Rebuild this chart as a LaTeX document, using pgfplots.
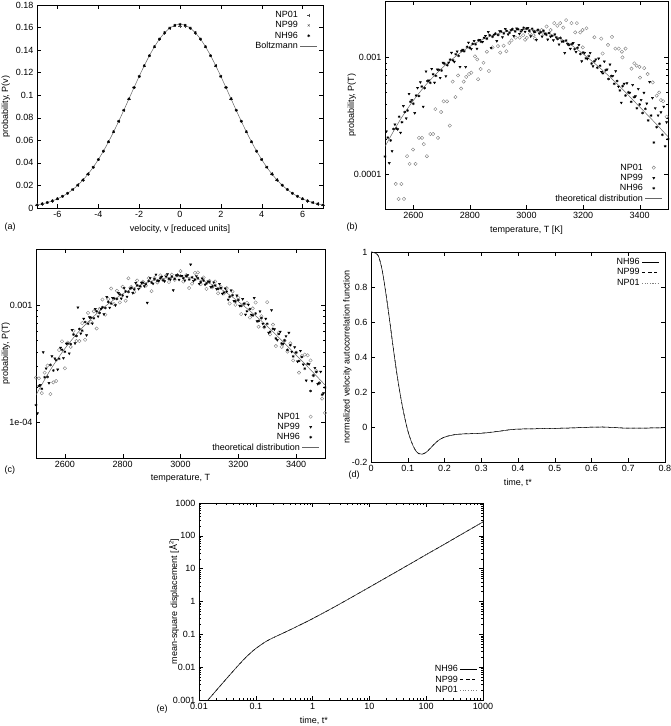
\documentclass[border=0pt]{standalone}
\usepackage{fontspec}
\setmainfont{Liberation Sans}
\usepackage{pgfplots}
\usepackage{pgfplotstable}
\pgfplotsset{compat=1.18}

\pgfplotsset{
 gp/.style={
  scale only axis,
  anchor=south west,
  axis line style={line width=0.5pt},
  tick style={black, line width=0.4pt},
  major tick length=4pt, minor tick length=2pt,
  tick align=inside,
  /pgf/number format/assume math mode=true,
  tick label style={font=\fontsize{9}{10}\selectfont},
  label style={font=\fontsize{9}{10}\selectfont},
  legend style={draw=none, fill=none, font=\fontsize{9}{10}\selectfont, row sep=-1.5pt, inner sep=1pt},
  legend cell align=right,
  legend plot pos=right,
 },
 ylab/.style={ylabel style={at={(axis description cs:#1,0.5)}, anchor=south}},
 mNP01/.style={only marks, mark=o, mark size=1.7pt, gray, mark options={line width=0.4pt}},
 mNP99/.style={only marks, mark=triangle*, mark size=1.25pt, black, mark options={rotate=180}},
 mNH96/.style={only marks, mark=asterisk, mark size=1.4pt, black, mark options={line width=0.5pt}},
 theo/.style={no markers, gray!80!black, line width=0.5pt, smooth},
}

% ---------------- panel (a) ----------------
\pgfplotstableread{
v     np01     np99     nh96     b
-7    0.00280  0.00272  0.00276  0.00274
-6.75 0.00362  0.00368  0.00366  0.00365
-6.5  0.00485  0.00480  0.00482  0.00482
-6.25 0.00625  0.00631  0.00628  0.00628
-6    0.00815  0.00808  0.00811  0.00811
-5.75 0.01032  0.01040  0.01036  0.01036
-5.5  0.01312  0.01306  0.01309  0.01309
-5.25 0.01635  0.01641  0.01638  0.01638
-5    0.02032  0.02025  0.02028  0.02028
-4.75 0.02480  0.02490  0.02485  0.02485
-4.5  0.03018  0.03010  0.03013  0.03013
-4.25 0.03610  0.03620  0.03615  0.03615
-4    0.04298  0.04288  0.04293  0.04293
-3.75 0.05040  0.05050  0.05045  0.05045
-3.5  0.05875  0.05862  0.05868  0.05868
-3.25 0.06748  0.06760  0.06754  0.06754
-3    0.07700  0.07688  0.07693  0.07693
-2.75 0.08665  0.08680  0.08673  0.08673
-2.5  0.09682  0.09668  0.09675  0.09675
-2.25 0.10672  0.10690  0.10681  0.10681
-2    0.11678  0.11662  0.11670  0.11670
-1.75 0.12610  0.12628  0.12619  0.12619
-1.5  0.13510  0.13495  0.13502  0.13502
-1.25 0.14290  0.14308  0.14299  0.14299
-1    0.14975  0.14995  0.14985  0.14985
-0.75 0.15520  0.15560  0.15541  0.15541
-0.5  0.15920  0.15970  0.15951  0.15951
-0.25 0.16150  0.16220  0.16202  0.16202
0     0.16120  0.16250  0.16290  0.16287
0.25  0.16140  0.16215  0.16205  0.16202
0.5   0.15915  0.15965  0.15950  0.15951
0.75  0.15520  0.15555  0.15545  0.15541
1     0.14970  0.14995  0.14988  0.14985
1.25  0.14290  0.14305  0.14300  0.14299
1.5   0.13508  0.13498  0.13502  0.13502
1.75  0.12612  0.12625  0.12619  0.12619
2     0.11675  0.11665  0.11670  0.11670
2.25  0.10676  0.10688  0.10681  0.10681
2.5   0.09680  0.09670  0.09675  0.09675
2.75  0.08668  0.08678  0.08673  0.08673
3     0.07698  0.07688  0.07693  0.07693
3.25  0.06750  0.06758  0.06754  0.06754
3.5   0.05872  0.05865  0.05868  0.05868
3.75  0.05042  0.05048  0.05045  0.05045
4     0.04296  0.04290  0.04293  0.04293
4.25  0.03612  0.03618  0.03615  0.03615
4.5   0.03016  0.03010  0.03013  0.03013
4.75  0.02482  0.02488  0.02485  0.02485
5     0.02030  0.02026  0.02028  0.02028
5.25  0.01636  0.01640  0.01638  0.01638
5.5   0.01311  0.01307  0.01309  0.01309
5.75  0.01034  0.01038  0.01036  0.01036
6     0.00813  0.00809  0.00811  0.00811
6.25  0.00626  0.00630  0.00628  0.00628
6.5   0.00484  0.00480  0.00482  0.00482
6.75  0.00363  0.00367  0.00365  0.00365
7     0.00276  0.00272  0.00274  0.00274
}\tabA

% theoretical temperature distribution (b),(c)
\pgfplotstableread{
T     P
2500  1.718e-4
2550  2.818e-4
2600  4.266e-4
2650  6.026e-4
2700  8.035e-4
2750  1.023e-3
2800  1.245e-3
2850  1.445e-3
2900  1.603e-3
2950  1.698e-3
3000  1.738e-3
3050  1.679e-3
3100  1.531e-3
3150  1.318e-3
3200  1.072e-3
3250  8.511e-4
3300  6.607e-4
3350  5.012e-4
3400  3.758e-4
3450  2.818e-4
3500  2.089e-4
}\tabTheo

% NH96 temperature histogram
\pgfplotstableread{
T P
2500 1.41e-4
2510 2.05e-4
2520 1.94e-4
2530 2.43e-4
2540 2.45e-4
2550 3.10e-4
2560 2.78e-4
2570 3.40e-4
2580 3.50e-4
2590 4.17e-4
2600 4.01e-4
2610 4.71e-4
2620 4.66e-4
2630 5.62e-4
2640 5.45e-4
2650 6.27e-4
2660 6.06e-4
2670 7.17e-4
2680 6.95e-4
2690 7.82e-4
2700 7.72e-4
2710 8.85e-4
2720 8.58e-4
2730 9.57e-4
2740 9.46e-4
2750 1.064e-3
2760 1.032e-3
2770 1.140e-3
2780 1.128e-3
2790 1.233e-3
2800 1.208e-3
2810 1.308e-3
2820 1.295e-3
2830 1.402e-3
2840 1.361e-3
2850 1.474e-3
2860 1.446e-3
2870 1.552e-3
2880 1.507e-3
2890 1.601e-3
2900 1.555e-3
2910 1.671e-3
2920 1.608e-3
2930 1.693e-3
2940 1.629e-3
2950 1.749e-3
2960 1.672e-3
2970 1.748e-3
2980 1.670e-3
2990 1.799e-3
3000 1.773e-3
3010 1.691e-3
3020 1.765e-3
3030 1.651e-3
3040 1.724e-3
3050 1.645e-3
3060 1.697e-3
3070 1.569e-3
3080 1.621e-3
3090 1.529e-3
3100 1.577e-3
3110 1.441e-3
3120 1.471e-3
3130 1.372e-3
3140 1.399e-3
3150 1.278e-3
3160 1.303e-3
3170 1.177e-3
3180 1.211e-3
3190 1.072e-3
3200 1.104e-3
3210 9.82e-4
3220 1.026e-3
3230 8.86e-4
3240 9.27e-4
3250 8.17e-4
3260 8.49e-4
3270 7.31e-4
3280 7.75e-4
3290 6.53e-4
3300 6.94e-4
3310 5.94e-4
3320 6.28e-4
3330 5.21e-4
3340 5.67e-4
3350 4.71e-4
3360 5.01e-4
3370 4.16e-4
3380 4.56e-4
3390 3.66e-4
3400 3.95e-4
3410 3.34e-4
3420 3.62e-4
3430 2.88e-4
3440 3.17e-4
3450 1.86e-4
3460 2.52e-4
3470 2.70e-4
3480 2.17e-4
3490 1.73e-4
3500 1.99e-4
}\tabNHT

% NP99 (b)
\pgfplotstableread{
T P
2505 2.32e-4
2515 1.24e-4
2525 1.57e-4
2535 2.66e-4
2545 2.42e-4
2555 2.26e-4
2565 3.83e-4
2575 3.00e-4
2585 4.87e-4
2595 4.32e-4
2605 3.33e-4
2615 5.48e-4
2625 6.13e-4
2635 3.78e-4
2645 7.59e-4
2655 6.33e-4
2665 7.98e-4
2675 6.08e-4
2685 7.88e-4
2695 6.68e-4
2705 9.00e-4
2715 6.91e-4
2725 9.03e-4
2735 1.096e-3
2745 9.17e-4
2755 1.125e-3
2765 8.30e-4
2775 1.162e-3
2785 8.29e-4
2795 1.341e-3
2805 1.183e-3
2815 1.385e-3
2825 1.189e-3
2835 1.415e-3
2845 1.361e-3
2855 1.532e-3
2865 1.653e-3
2875 1.206e-3
2885 1.569e-3
2895 1.382e-3
2905 1.683e-3
2915 1.492e-3
2925 1.756e-3
2935 1.577e-3
2945 1.713e-3
2955 1.528e-3
2965 1.774e-3
2975 1.594e-3
2985 1.722e-3
2995 1.661e-3
3005 1.790e-3
3015 1.519e-3
3025 1.680e-3
3035 1.413e-3
3045 1.606e-3
3055 1.511e-3
3065 1.599e-3
3075 1.424e-3
3085 1.510e-3
3095 1.404e-3
3105 1.485e-3
3115 1.293e-3
3125 1.370e-3
3135 1.092e-3
3145 1.304e-3
3155 1.186e-3
3165 1.328e-3
3175 1.116e-3
3185 1.280e-3
3195 9.27e-4
3205 1.093e-3
3215 9.72e-4
3225 1.094e-3
3235 8.40e-4
3245 9.62e-4
3255 9.79e-4
3265 7.52e-4
3275 9.23e-4
3285 7.89e-4
3295 8.69e-4
3305 6.94e-4
3315 7.63e-4
3325 5.62e-4
3335 4.09e-4
3345 5.94e-4
3355 6.01e-4
3365 4.97e-4
3375 5.81e-4
3385 4.64e-4
3395 5.37e-4
3405 4.32e-4
3415 4.97e-4
3425 4.02e-4
3435 6.16e-4
3445 4.49e-4
3455 3.67e-4
3465 3.18e-4
3475 3.38e-4
3485 3.78e-4
3495 2.78e-4
}\tabNPbb

% NP01 (b)
\pgfplotstableread{
T P
2538 8.2e-5
2558 8.2e-5
2548 6.1e-5
2567 6.1e-5
2578 1.42e-4
2587 1.22e-4
2608 1.22e-4
2599 1.62e-4
2620 2.04e-4
2631 2.04e-4
2637 1.80e-4
2648 1.42e-4
2660 2.20e-4
2670 2.20e-4
2687 2.04e-4
2678 3.60e-4
2698 3.40e-4
2707 4.20e-4
2719 4.20e-4
2729 2.60e-4
2739 6.20e-4
2749 4.57e-4
2758 7.00e-4
2769 5.40e-4
2778 6.20e-4
2787 6.80e-4
2797 7.20e-4
2805 7.40e-4
2829 6.50e-4
2818 1.02e-3
2826 9.60e-4
2838 7.95e-4
2848 9.00e-4
2867 7.65e-4
2860 1.12e-3
2880 1.22e-3
2899 1.25e-3
2907 1.10e-3
2919 1.26e-3
2929 1.13e-3
2939 1.33e-3
2947 1.40e-3
2962 1.48e-3
2976 1.48e-3
2988 1.55e-3
2995 1.42e-3
3001 1.47e-3
3012 1.60e-3
3025 1.55e-3
3030 1.45e-3
3042 1.70e-3
3053 1.72e-3
3060 1.60e-3
3071 1.84e-3
3085 1.72e-3
3098 1.97e-3
3109 1.87e-3
3119 1.97e-3
3130 1.80e-3
3140 2.09e-3
3159 1.97e-3
3178 1.97e-3
3172 1.64e-3
3190 1.64e-3
3198 1.72e-3
3212 1.78e-3
3240 1.49e-3
3199 1.22e-3
3264 1.45e-3
3269 1.08e-3
3288 1.28e-3
3302 1.50e-3
3314 1.19e-3
3326 1.19e-3
3337 1.12e-3
3339 1.00e-3
3350 1.19e-3
3371 8.00e-4
3381 8.90e-4
3389 8.50e-4
3399 8.30e-4
3401 6.70e-4
3416 8.10e-4
3428 7.20e-4
3446 6.10e-4
3460 4.70e-4
3469 5.00e-4
3475 4.30e-4
3483 4.20e-4
3495 3.10e-4
}\tabNPab

% NP99 (c)
\pgfplotstableread{
T P
2505 1.20e-4
2515 2.09e-4
2525 3.97e-4
2535 2.89e-4
2545 2.17e-4
2555 3.67e-4
2565 3.52e-4
2575 2.83e-4
2585 4.33e-4
2595 3.54e-4
2605 4.70e-4
2615 3.88e-4
2625 6.13e-4
2635 4.73e-4
2645 9.55e-4
2655 5.73e-4
2665 7.66e-4
2675 5.54e-4
2685 7.88e-4
2695 6.98e-4
2705 9.25e-4
2715 8.01e-4
2725 9.29e-4
2735 8.36e-4
2745 1.170e-3
2755 9.51e-4
2765 1.149e-3
2775 9.96e-4
2785 1.266e-3
2795 1.137e-3
2805 1.394e-3
2815 1.179e-3
2825 1.387e-3
2835 1.266e-3
2845 1.543e-3
2855 1.373e-3
2865 1.550e-3
2875 1.447e-3
2885 1.046e-3
2895 1.696e-3
2905 1.523e-3
2915 1.817e-3
2925 1.608e-3
2935 1.743e-3
2945 1.595e-3
2955 1.834e-3
2965 1.655e-3
2975 1.337e-3
2985 1.791e-3
2995 1.644e-3
3005 1.773e-3
3015 1.622e-3
3025 1.800e-3
3035 2.213e-3
3045 1.606e-3
3055 1.763e-3
3065 1.516e-3
3075 1.683e-3
3085 1.494e-3
3095 1.591e-3
3105 1.424e-3
3115 1.560e-3
3125 1.370e-3
3135 1.512e-3
3145 1.249e-3
3155 1.384e-3
3165 1.113e-3
3175 1.334e-3
3185 1.083e-3
3195 1.206e-3
3205 9.86e-4
3215 1.125e-3
3225 8.30e-4
3235 1.008e-3
3245 8.29e-4
3255 1.149e-3
3265 7.28e-4
3275 8.84e-4
3285 6.94e-4
3295 7.65e-4
3305 5.82e-4
3315 9.06e-4
3325 6.22e-4
3335 5.04e-4
3345 5.94e-4
3355 4.66e-4
3365 5.44e-4
3375 5.81e-4
3385 4.01e-4
3395 4.38e-4
3405 3.31e-4
3415 4.08e-4
3425 3.12e-4
3435 2.28e-4
3445 3.14e-4
3455 2.26e-4
3465 2.92e-4
3475 2.13e-4
3485 2.71e-4
3495 1.78e-4
}\tabNPbc

% NP01 (c)
\pgfplotstableread{
T P
2500 2.41e-4
2510 2.38e-4
2520 1.78e-4
2530 2.66e-4
2540 3.06e-4
2550 1.75e-4
2560 2.20e-4
2570 2.26e-4
2580 4.15e-4
2590 4.91e-4
2600 2.90e-4
2610 4.80e-4
2620 4.41e-4
2630 6.04e-4
2640 4.95e-4
2650 4.94e-4
2660 7.02e-4
2670 5.07e-4
2680 8.59e-4
2690 7.21e-4
2700 8.84e-4
2710 6.32e-4
2720 9.29e-4
2730 1.115e-3
2740 8.29e-4
2750 1.125e-3
2760 1.383e-3
2770 1.018e-3
2780 1.324e-3
2790 1.053e-3
2800 1.432e-3
2810 1.090e-3
2820 1.691e-3
2830 1.429e-3
2840 1.291e-3
2850 1.618e-3
2860 1.432e-3
2870 1.582e-3
2880 1.461e-3
2890 1.696e-3
2900 1.314e-3
2910 1.703e-3
2920 1.559e-3
2930 1.793e-3
2940 1.629e-3
2950 1.783e-3
2960 1.570e-3
2970 1.817e-3
2980 1.636e-3
2990 1.799e-3
3000 1.947e-3
3010 1.588e-3
3020 1.800e-3
3030 1.396e-3
3040 1.521e-3
3050 1.880e-3
3060 1.895e-3
3070 1.505e-3
3080 1.716e-3
3090 1.373e-3
3100 1.608e-3
3110 1.412e-3
3120 1.586e-3
3130 1.260e-3
3140 1.426e-3
3150 1.252e-3
3160 1.392e-3
3170 1.031e-3
3180 1.304e-3
3190 1.005e-3
3200 1.158e-3
3210 8.39e-4
3220 1.026e-3
3230 1.045e-3
3240 7.84e-4
3250 9.36e-4
3260 1.052e-3
3270 6.54e-4
3280 8.04e-4
3290 6.46e-4
3300 1.058e-3
3310 5.63e-4
3320 6.81e-4
3330 4.48e-4
3340 5.83e-4
3350 4.41e-4
3360 4.97e-4
3370 4.02e-4
3380 4.73e-4
3390 3.38e-4
3400 3.95e-4
3410 2.66e-4
3420 3.69e-4
3430 3.79e-4
3440 3.74e-4
3450 3.38e-4
3460 2.52e-4
3470 2.75e-4
3480 2.17e-4
3490 1.60e-4
3500 1.21e-4
}\tabNPac

% VACF (d)
\pgfplotstableread{
t     nh      np99    np01
0     1.000   1.000   1.000
0.01  0.995   0.995   0.995
0.02  0.978   0.978   0.979
0.03  0.900   0.901   0.900
0.04  0.770   0.771   0.770
0.05  0.620   0.621   0.620
0.06  0.460   0.461   0.460
0.07  0.310   0.311   0.310
0.08  0.180   0.181   0.180
0.09  0.070   0.071   0.070
0.10  -0.020  -0.019  -0.020
0.11  -0.085  -0.084  -0.085
0.12  -0.130  -0.129  -0.130
0.13  -0.153  -0.152  -0.153
0.14  -0.155  -0.154  -0.155
0.15  -0.145  -0.144  -0.145
0.16  -0.125  -0.124  -0.125
0.17  -0.103  -0.102  -0.103
0.18  -0.083  -0.082  -0.083
0.19  -0.068  -0.067  -0.068
0.20  -0.058  -0.057  -0.058
0.22  -0.047  -0.046  -0.047
0.24  -0.041  -0.041  -0.041
0.26  -0.039  -0.038  -0.039
0.28  -0.038  -0.037  -0.038
0.30  -0.036  -0.035  -0.036
0.32  -0.032  -0.031  -0.032
0.34  -0.027  -0.026  -0.027
0.36  -0.021  -0.021  -0.021
0.38  -0.015  -0.015  -0.015
0.40  -0.012  -0.012  -0.012
0.45  -0.010  -0.010  -0.010
0.50  -0.008  -0.008  -0.008
0.55  -0.005  -0.005  -0.005
0.60  -0.001  -0.001  -0.001
0.63  0.000   0.000   0.000
0.67  -0.004  -0.004  -0.004
0.70  -0.007  -0.007  -0.007
0.75  -0.006  -0.006  -0.006
0.80  -0.004  -0.004  -0.004
}\tabVACF

% MSD (e)
\pgfplotstableread{
t      nh       np99     np01
0.0144 0.00100  0.00100  0.00100
0.02   0.00193  0.00193  0.00193
0.03   0.00432  0.00432  0.00432
0.05   0.0117   0.0117   0.0117
0.07   0.0215   0.0215   0.0215
0.1    0.0370   0.0370   0.0370
0.15   0.0600   0.0600   0.0600
0.2    0.0780   0.0780   0.0780
0.3    0.108    0.108    0.108
0.5    0.165    0.165    0.165
0.7    0.220    0.220    0.220
1      0.300    0.300    0.300
2      0.570    0.570    0.570
3      0.840    0.840    0.840
5      1.38     1.38     1.38
7      1.92     1.92     1.92
10     2.72     2.72     2.72
20     5.40     5.40     5.40
50     13.4     13.4     13.4
100    26.8     26.8     26.8
200    53.0     53.0     53.0
500    133      133      133
1000   265      265      265
}\tabMSD

\begin{document}
\begin{tikzpicture}[x=1pt,y=1pt]
\path[use as bounding box] (0,0) rectangle (670,726);

% ---------------- (a) ----------------
\begin{axis}[gp, ylab=-0.0822, at={(37pt,518pt)}, width=286pt, height=203pt,
  xmin=-7, xmax=7, ymin=0, ymax=0.18,
  xtick={-6,-4,-2,0,2,4,6}, xticklabels={-6,-4,-2,0,2,4,6},
  ytick={0,0.02,0.04,0.06,0.08,0.1,0.12,0.14,0.16,0.18},
  yticklabels={0,0.02,0.04,0.06,0.08,0.1,0.12,0.14,0.16,0.18},
  xlabel={velocity, v [reduced units]}, ylabel={probability, P(v)},
  legend style={at={(0.985,0.985)}, anchor=north east}]
\addplot[only marks, mark=+, mark size=1.6pt, black!70] table[x=v,y=np01] {\tabA};
\addlegendentry{NP01}
\addplot[only marks, mark=x, mark size=1.5pt, black!70] table[x=v,y=np99] {\tabA};
\addlegendentry{NP99}
\addplot[mNH96, mark size=1.4pt] table[x=v,y=nh96] {\tabA};
\addlegendentry{NH96}
\addplot[theo] table[x=v,y=b] {\tabA};
\addlegendentry{Boltzmann}
\end{axis}
\node[anchor=west, font=\fontsize{9}{10}\selectfont] at (1,499) {(a)};

% ---------------- (b) ----------------
\begin{axis}[gp, ylab=-0.0901, at={(385pt,517pt)}, width=283pt, height=208pt,
  xmin=2500, xmax=3500, ymode=log, ymin=5e-5, ymax=3.05e-3,
  xtick={2600,2800,3000,3200,3400}, xticklabels={2600,2800,3000,3200,3400},
  ytick={1e-4,1e-3}, yticklabels={0.0001,0.001},
  xlabel={temperature, T [K]}, ylabel={probability, P(T)},
  legend style={at={(0.985,0.015)}, anchor=south east}]
\addplot[mNP01] table {\tabNPab};
\addlegendentry{NP01}
\addplot[mNP99] table {\tabNPbb};
\addlegendentry{NP99}
\addplot[mNH96] table {\tabNHT};
\addlegendentry{NH96}
\addplot[theo] table {\tabTheo};
\addlegendentry{theoretical distribution}
\end{axis}
\node[anchor=west, font=\fontsize{9}{10}\selectfont] at (343,499) {(b)};

% ---------------- (c) ----------------
\begin{axis}[gp, ylab=-0.0779, at={(36pt,268pt)}, width=289pt, height=209pt,
  xmin=2500, xmax=3500, ymode=log, ymin=5e-5, ymax=3.0e-3,
  xtick={2600,2800,3000,3200,3400}, xticklabels={2600,2800,3000,3200,3400},
  ytick={1e-4,1e-3}, yticklabels={1e-04,0.001},
  xlabel={temperature, T}, ylabel={probability, P(T)},
  legend style={at={(0.985,0.015)}, anchor=south east}]
\addplot[mNP01] table {\tabNPac};
\addlegendentry{NP01}
\addplot[mNP99] table {\tabNPbc};
\addlegendentry{NP99}
\addplot[mNH96] table {\tabNHT};
\addlegendentry{NH96}
\addplot[theo] table {\tabTheo};
\addlegendentry{theoretical distribution}
\end{axis}
\node[anchor=west, font=\fontsize{9}{10}\selectfont] at (1,256) {(c)};

% ---------------- (d) ----------------
\begin{axis}[gp, ylab=-0.0544, at={(371pt,264pt)}, width=294pt, height=210pt,
  xmin=0, xmax=0.8, ymin=-0.2, ymax=1,
  xtick={0,0.1,0.2,0.3,0.4,0.5,0.6,0.7,0.8}, xticklabels={0,0.1,0.2,0.3,0.4,0.5,0.6,0.7,0.8},
  ytick={-0.2,0,0.2,0.4,0.6,0.8,1}, yticklabels={-0.2,0,0.2,0.4,0.6,0.8,1},
  xlabel={time, t*}, ylabel={normalized velocity autocorrelation function},
  legend style={at={(0.985,0.985)}, anchor=north east}]
\addplot[no markers, black, line width=0.5pt, smooth] table[x=t,y=nh] {\tabVACF};
\addlegendentry{NH96}
\addplot[no markers, black, dashed, line width=0.5pt, smooth] table[x=t,y=np99] {\tabVACF};
\addlegendentry{NP99}
\addplot[no markers, gray, dotted, line width=0.6pt, smooth] table[x=t,y=np01] {\tabVACF};
\addlegendentry{NP01}
\end{axis}
\node[anchor=west, font=\fontsize{9}{10}\selectfont] at (345,251) {(d)};

% ---------------- (e) ----------------
\begin{axis}[gp, ylab=-0.0581, at={(199pt,26pt)}, width=284pt, height=197pt,
  xmode=log, ymode=log, xmin=0.01, xmax=1000, ymin=0.001, ymax=1000,
  xtick={0.01,0.1,1,10,100,1000}, xticklabels={0.01,0.1,1,10,100,1000},
  ytick={0.001,0.01,0.1,1,10,100,1000}, yticklabels={0.001,0.01,0.1,1,10,100,1000},
  xlabel={time, t*}, xlabel style={xshift=-27pt},
  ylabel={mean-square displacement [Å\textsuperscript{2}]},
  legend style={at={(0.985,0.015)}, anchor=south east}]
\addplot[no markers, black, line width=0.5pt, smooth] table[x=t,y=nh] {\tabMSD};
\addlegendentry{NH96}
\addplot[no markers, black, dashed, line width=0.5pt, smooth] table[x=t,y=np99] {\tabMSD};
\addlegendentry{NP99}
\addplot[no markers, gray, dotted, line width=0.6pt, smooth] table[x=t,y=np01] {\tabMSD};
\addlegendentry{NP01}
\end{axis}
\node[anchor=west, font=\fontsize{9}{10}\selectfont] at (153,17) {(e)};
\end{tikzpicture}
\end{document}
